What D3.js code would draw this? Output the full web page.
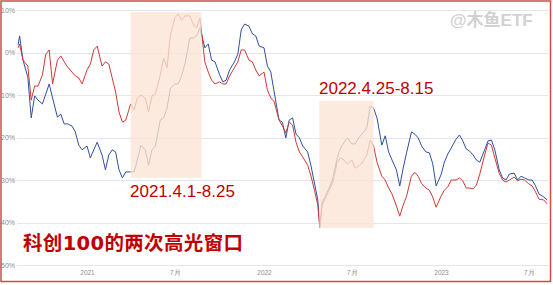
<!doctype html>
<html lang="zh">
<head>
<meta charset="utf-8">
<title>科创100的两次高光窗口</title>
<script src="https://d3js.org/d3.v7.min.js"></script>
<style type="text/css">
  body { margin: 0; background: #fff; }
  .axis text {
	font-family: "Liberation Sans Narrow", "Liberation Sans", sans-serif;
	fill: #8c8c8c;
  }
  .axis line { stroke: #e3e6ee; shape-rendering: crispEdges; }
</style>
</head>
<body>
<script type="text/javascript">

// weekly readings of the two cumulative return curves (%)
var dates = [
	"2020-08-12","2020-08-15","2020-08-22","2020-09-01","2020-09-08","2020-09-15","2020-09-22",
	"2020-10-01","2020-10-08","2020-10-15","2020-10-22","2020-11-01","2020-11-08","2020-11-15","2020-11-22",
	"2020-12-01","2020-12-08","2020-12-15","2020-12-22",
	"2021-01-01","2021-01-08","2021-01-15","2021-01-22","2021-02-01","2021-02-08","2021-02-15","2021-02-22",
	"2021-03-01","2021-03-08","2021-03-15","2021-03-22","2021-04-01","2021-04-08","2021-04-15","2021-04-22",
	"2021-05-01","2021-05-08","2021-05-15","2021-05-22","2021-06-01","2021-06-08","2021-06-15","2021-06-22",
	"2021-07-01","2021-07-08","2021-07-15","2021-07-22","2021-08-01","2021-08-08","2021-08-15","2021-08-22",
	"2021-09-01","2021-09-08","2021-09-15","2021-09-22","2021-10-01","2021-10-08","2021-10-15","2021-10-22",
	"2021-11-01","2021-11-08","2021-11-15","2021-11-22","2021-12-01","2021-12-08","2021-12-15","2021-12-22",
	"2022-01-01","2022-01-08","2022-01-15","2022-01-22","2022-02-01","2022-02-08","2022-02-15","2022-02-22",
	"2022-03-01","2022-03-08","2022-03-15","2022-03-22","2022-04-01","2022-04-08","2022-04-15","2022-04-22","2022-04-26",
	"2022-05-01","2022-05-08","2022-05-15","2022-05-22","2022-06-01","2022-06-08","2022-06-15","2022-06-22",
	"2022-07-01","2022-07-08","2022-07-15","2022-07-22","2022-08-01","2022-08-08","2022-08-15","2022-08-22",
	"2022-09-01","2022-09-08","2022-09-15","2022-09-22","2022-10-01","2022-10-08","2022-10-15","2022-10-22",
	"2022-11-01","2022-11-08","2022-11-15","2022-11-22","2022-12-01","2022-12-08","2022-12-15","2022-12-22",
	"2023-01-01","2023-01-08","2023-01-15","2023-01-22","2023-02-01","2023-02-08","2023-02-15","2023-02-22",
	"2023-03-01","2023-03-08","2023-03-15","2023-03-22","2023-04-01","2023-04-08","2023-04-15","2023-04-22",
	"2023-05-01","2023-05-08","2023-05-15","2023-05-22","2023-06-01","2023-06-08","2023-06-15","2023-06-22",
	"2023-07-01","2023-07-08","2023-07-15","2023-07-22","2023-08-01","2023-08-08"
];

var blueValues = [
	1.8, 3.9, -1.8, -5.8, -15.4, -10.2, -11.2, -12.1, -9.8, -7.4, -10.7, -15.2, -14.5, -16.8, -16.8,
	-17.3, -18.7, -21.8, -22.9,
	-22.0, -24.8, -22.9, -21.1, -24.1, -27.6, -24.1, -22.9, -23.4, -27.6, -29.5, -28.1,
	-28.1, -28.1, -25.3, -21.8, -22.9, -26.5, -22.9, -22.0, -15.9, -15.4, -13.1, -8.4,
	-7.4, -7.4, -5.5, -2.7, 3.4, 3.4, 3.9, 5.8, 1.1, 2.0, -1.8, -2.2,
	-5.1, -6.9, -6.5, -4.1, -2.2, -0.4, 5.3, 6.7, 6.2, 4.4, 3.9, 1.5,
	1.1, -3.2, -4.6, -9.3, -15.9, -16.4, -20.1, -15.9, -15.4, -19.2, -20.1, -22.0,
	-23.4, -26.7, -30.7, -34.7, -41.0, -35.2, -33.8, -31.9, -30.0, -24.8, -22.5, -21.1, -20.1,
	-21.5, -21.5, -20.1, -19.2, -17.8, -12.6, -13.1, -15.4, -21.8, -19.6, -23.4, -25.3,
	-27.6, -31.4, -27.2, -23.6, -18.7, -19.2, -20.1, -22.0, -23.4, -23.6, -26.2, -31.4,
	-28.8, -25.8, -23.9, -22.5, -20.4, -19.4, -20.8, -22.7, -23.2, -24.1, -25.3, -25.8,
	-22.9, -20.8, -20.6, -22.9, -27.6, -29.5, -30.0, -28.6, -28.4, -30.0, -29.1, -29.5,
	-30.0, -30.0, -31.4, -33.3, -34.0, -34.7
];

var redValues = [
	1.1, 2.0, -1.8, -3.2, -11.2, -7.9, -7.9, -5.3, -0.4, 0.6, -7.4, -1.8, -0.8, -2.2, -3.4,
	-4.6, -5.5, -6.0, -7.4,
	-4.1, -2.7, 0.6, 1.5, -3.2, -2.2, -2.7, -6.0, -9.3, -14.0, -16.4, -15.9,
	-12.1, -13.5, -10.7, -10.0, -10.7, -14.0, -10.2, -9.8, -5.3, -1.3, -3.6, 4.1,
	8.1, 9.1, 7.6, 8.6, 8.6, 6.7, 5.8, 8.1, -2.2, -4.6, -6.5, -7.4,
	-6.9, -7.4, -7.4, -5.5, -3.6, -2.2, 0.6, 0.6, -1.8, -2.2, -4.1, -5.5,
	-4.6, -8.8, -10.7, -11.6, -15.9, -17.3, -18.9, -16.4, -17.1, -21.1, -23.4, -24.6,
	-26.5, -29.1, -32.4, -35.9, -41.3, -35.9, -34.2, -32.4, -30.9, -25.8, -24.8, -25.3, -26.2,
	-25.3, -27.2, -26.7, -26.0, -24.1, -20.6, -22.0, -25.8, -29.1, -30.0, -31.9, -33.3,
	-36.1, -38.5, -35.9, -33.8, -29.1, -28.2, -29.1, -30.9, -31.9, -32.4, -34.0, -36.4,
	-33.8, -32.4, -31.6, -30.0, -30.0, -29.5, -30.2, -31.9, -31.9, -32.1, -31.2, -28.6,
	-24.1, -21.3, -21.8, -24.8, -28.4, -30.0, -30.5, -30.0, -29.3, -30.2, -29.8, -30.0,
	-30.9, -31.4, -32.8, -34.5, -34.7, -35.6
];

var yTicks = [10, 0, -10, -20, -30, -40, -50];
var xTicks = ["2021-01-01", "2021-07-01", "2022-01-01", "2022-07-01", "2023-01-01", "2023-07-01"];
var xTickLabels = ["2021", "7月", "2022", "7月", "2023", "7月"];

// the two highlighted windows
var windowLabels = ["2021.4.1-8.25", "2022.4.25-8.15"];
var windowStarts = ["2021-04-01", "2022-04-25"];
var windowEnds = ["2021-08-25", "2022-08-15"];
var windowTops = [9.5, -11.4];
var windowBottoms = [-29.5, -41.3];

var title = "科创100的两次高光窗口";
var watermark = "@木鱼ETF";

var W = 553, H = 285;
var parseDate = d3.timeParse("%Y-%m-%d");

var svg = d3.select("body").append("svg")
	.attr("width", W)
	.attr("height", H);

// scales
var x = d3.scaleTime()
	.domain([parseDate("2021-01-01"), parseDate("2023-01-01")])
	.range([87, 441]);

var y = d3.scaleLinear()
	.domain([-50, 10])
	.range([265, 10]);

// y axis with gridlines
var yAxis = svg.append("g")
	.attr("class", "axis")
	.attr("transform", "translate(17,0)")
	.call(d3.axisLeft(y)
		.tickValues(yTicks)
		.tickSize(-531)
		.tickPadding(2)
		.tickFormat(function(d) { return d + "%"; }));
yAxis.select(".domain").remove();
yAxis.selectAll("text").style("font-size", "7px");

// x axis labels
var xAxis = svg.append("g")
	.attr("class", "axis")
	.attr("transform", "translate(0,265)")
	.call(d3.axisBottom(x)
		.tickValues(xTicks.map(parseDate))
		.tickSize(0)
		.tickPadding(5)
		.tickFormat(function(d, i) { return xTickLabels[i]; }));
xAxis.select(".domain").remove();
xAxis.selectAll("text").style("font-size", "6.5px");

// lines
var line = d3.line()
	.x(function(d) { return x(d.date); })
	.y(function(d) { return y(d.value); });

function seriesOf(values) {
	return dates.map(function(d, i) { return {date: parseDate(d), value: values[i]}; });
}

svg.append("path")
	.datum(seriesOf(blueValues))
	.attr("fill", "none")
	.attr("stroke", "#2f4f9e")
	.attr("stroke-width", 1)
	.attr("d", line);

svg.append("path")
	.datum(seriesOf(redValues))
	.attr("fill", "none")
	.attr("stroke", "#cc3a36")
	.attr("stroke-width", 1)
	.attr("d", line);

// shaded windows, drawn over the lines
windowStarts.forEach(function(s, i) {
	svg.append("rect")
		.attr("x", x(parseDate(s)))
		.attr("y", y(windowTops[i]))
		.attr("width", x(parseDate(windowEnds[i])) - x(parseDate(s)))
		.attr("height", y(windowBottoms[i]) - y(windowTops[i]))
		.attr("fill", "#fae4d4")
		.attr("opacity", 0.78);
});

// window labels
var labelPos = [[130, 197], [319, 93.5]];
windowLabels.forEach(function(t, i) {
	svg.append("text")
		.attr("x", labelPos[i][0])
		.attr("y", labelPos[i][1])
		.attr("font-family", "Liberation Sans, Arial, sans-serif")
		.attr("font-size", 17)
		.attr("fill", "#c00000")
		.text(t);
});

// title
svg.append("text")
	.attr("x", 23)
	.attr("y", 250)
	.attr("font-family", "DejaVu Sans, Noto Sans CJK SC, sans-serif")
	.attr("font-weight", "bold")
	.attr("font-size", 19.5)
	.attr("textLength", 220)
	.attr("lengthAdjust", "spacing")
	.attr("fill", "#c00000")
	.text(title);

// watermark
svg.append("text")
	.attr("x", 450)
	.attr("y", 26)
	.attr("font-family", "Liberation Sans, Noto Sans CJK SC, sans-serif")
	.attr("font-weight", "bold")
	.attr("font-size", 17)
	.attr("fill", "#d2d2d2")
	.text(watermark);

// frame
svg.append("rect")
	.attr("x", 1)
	.attr("y", 1)
	.attr("width", 549.5)
	.attr("height", 280.5)
	.attr("fill", "none")
	.attr("stroke", "#d24a4a")
	.attr("stroke-width", 1.5);

</script>
</body>
</html>
